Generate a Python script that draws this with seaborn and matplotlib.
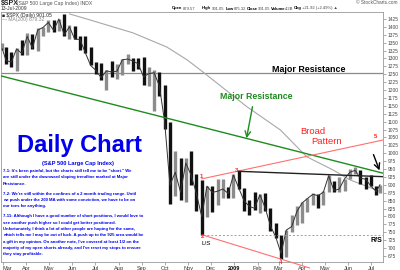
import matplotlib
matplotlib.use("Agg")
import matplotlib.pyplot as plt
import pandas as pd
import seaborn as sns

# ---------------- data ----------------
bar_dates = ["2008-02-29",
    "2008-03-05", "2008-03-12", "2008-03-19", "2008-03-26",
    "2008-04-02", "2008-04-09", "2008-04-16", "2008-04-23", "2008-04-30",
    "2008-05-07", "2008-05-14", "2008-05-21", "2008-05-28",
    "2008-06-04", "2008-06-11", "2008-06-18", "2008-06-25",
    "2008-07-02", "2008-07-09", "2008-07-16", "2008-07-23", "2008-07-30",
    "2008-08-06", "2008-08-13", "2008-08-20", "2008-08-27",
    "2008-09-03", "2008-09-10", "2008-09-17", "2008-09-24",
    "2008-10-01", "2008-10-08", "2008-10-15", "2008-10-22", "2008-10-29",
    "2008-11-05", "2008-11-12", "2008-11-19", "2008-11-26",
    "2008-12-03", "2008-12-10", "2008-12-17", "2008-12-24", "2008-12-31",
    "2009-01-07", "2009-01-14", "2009-01-21", "2009-01-28",
    "2009-02-04", "2009-02-11", "2009-02-18", "2009-02-25",
    "2009-03-04", "2009-03-11", "2009-03-18", "2009-03-25",
    "2009-04-01", "2009-04-08", "2009-04-15", "2009-04-22", "2009-04-29",
    "2009-05-06", "2009-05-13", "2009-05-20", "2009-05-27",
    "2009-06-03", "2009-06-10", "2009-06-17", "2009-06-24",
    "2009-07-01", "2009-07-08", "2009-07-13"]
bar_high = [1350,
    1335, 1321, 1334, 1359,
    1380, 1378, 1395, 1399, 1422,
    1421, 1425, 1440, 1406,
    1404, 1370, 1370, 1335,
    1290, 1285, 1262, 1292, 1284,
    1297, 1314, 1301, 1300,
    1304, 1274, 1265, 1256,
    1216, 1098, 1006, 985, 984,
    1007, 934, 917, 897,
    897, 918, 918, 893, 934,
    944, 891, 851, 877,
    870, 875, 828, 780,
    740, 758, 804, 832,
    845, 857, 875, 870, 882,
    930, 912, 924, 920,
    951, 956, 946, 926,
    931, 898, 901]
bar_low = [1326,
    1283, 1274, 1260, 1312,
    1312, 1331, 1324, 1370, 1384,
    1384, 1387, 1372, 1362,
    1360, 1326, 1317, 1278,
    1252, 1233, 1200, 1241, 1234,
    1247, 1282, 1261, 1266,
    1217, 1212, 1133, 1180,
    1077, 839, 866, 852, 845,
    899, 818, 741, 798,
    815, 837, 857, 857, 857,
    888, 818, 804, 821,
    812, 818, 754, 731,
    666, 672, 751, 772,
    779, 814, 835, 826, 836,
    877, 878, 879, 880,
    918, 934, 903, 888,
    896, 869, 875]
bar_close = [1331,
    1294, 1288, 1330, 1316,
    1370, 1333, 1390, 1398, 1414,
    1389, 1425, 1375, 1400,
    1361, 1360, 1318, 1278,
    1262, 1239, 1261, 1257, 1260,
    1296, 1298, 1292, 1283,
    1242, 1252, 1255, 1213,
    1099, 899, 940, 877, 969,
    931, 873, 800, 896,
    876, 880, 887, 873, 931,
    890, 850, 832, 826,
    869, 827, 770, 735,
    683, 757, 768, 816,
    843, 857, 870, 866, 877,
    929, 882, 887, 919,
    940, 946, 921, 918,
    896, 879, 901.05]

ma_dates = ["2008-05-28", "2008-06-24", "2008-08-20", "2008-10-04", "2008-10-31",
            "2008-11-17", "2009-01-18", "2009-03-03", "2009-04-07", "2009-05-12",
            "2009-06-03", "2009-07-13"]
ma_values = [1441, 1422, 1381, 1336, 1295, 1264, 1147, 1074, 989, 947, 916, 879.32]

month_ticks = ["2008-03-01", "2008-04-01", "2008-05-01", "2008-06-01", "2008-07-01",
               "2008-08-01", "2008-09-01", "2008-10-01", "2008-11-01", "2008-12-01",
               "2009-01-01", "2009-02-01", "2009-03-01", "2009-04-01", "2009-05-01",
               "2009-06-01", "2009-07-01"]
month_labels = ["Mar", "Apr", "May", "Jun", "Jul", "Aug", "Sep", "Oct", "Nov", "Dec",
                "2009", "Feb", "Mar", "Apr", "May", "Jun", "Jul"]
y_ticks = list(range(675, 1426, 25))

resistance_level = 1254
green_dates = ["2008-02-27", "2009-07-17"]
green_values = [1245, 937]
upper_dates = ["2008-11-19", "2009-07-17"]
upper_values = [919, 1042]
lower_dates = ["2008-11-21", "2009-04-11"]
lower_values = [741, 637]
neck_dates = ["2009-01-06", "2009-07-17"]
neck_values = [943, 926]
support_dates = ["2008-11-21", "2009-07-17"]
support_values = [741, 741]

paragraphs = [
    "7-1: It's been painful, but the charts still tell me to be \"short.\" We",
    "are still under the downward sloping trendline marked at Major",
    "Resistance.",
    None,
    "7-2: We're still within the confines of a 2 month trading range. Until",
    "we push under the 200 MA with some conviction, we have to be on",
    "our toes for anything.",
    None,
    "7-11: Although I have a good number of short positions, I would love to",
    "see another push higher so I could get better positioned.",
    "Unfortunately, I think a lot of other people are hoping for the same,",
    "which tells me I may be out of luck. A push up to the 925 area would be",
    "a gift in my opinion. On another note, I've covered at least 1/2 on the",
    "majority of my open shorts already, and I've reset my stops to ensure",
    "they stay profitable.",
]

# ---------------- figure ----------------
sns.set_style("white")
plt.rcParams['font.family'] = ['Liberation Sans', 'DejaVu Sans']

W, H = 400, 270
def P(x, y):
    return (x / W, 1 - y / H)

fig = plt.figure(figsize=(4, 2.7), dpi=100)
ax = fig.add_axes([1 / W, 1 - 262 / H, 382 / W, 250 / H])

df = pd.DataFrame({"date": pd.to_datetime(bar_dates), "high": bar_high,
                   "low": bar_low, "close": bar_close})
df["prev"] = df["close"].shift(1).fillna(df["close"])
up = df["close"] >= df["prev"]

BLUE = "#0000ee"
GREEN = "#1e8c1e"
RED_L = "#ff7070"
RED_T = "#ff2020"

# reference lines
ax.axhline(resistance_level, color="#8a8a8a", lw=0.9, zorder=1)
ma_df = pd.DataFrame({"date": pd.to_datetime(ma_dates), "ma": ma_values})
sns.lineplot(data=ma_df, x="date", y="ma", ax=ax, color="#a8a8a8", lw=0.8, zorder=2)

# price bars
ax.vlines(df["date"][up], df["low"][up], df["high"][up], color="#8c8c8c", lw=2.4, zorder=3)
ax.vlines(df["date"][~up], df["low"][~up], df["high"][~up], color="#111111", lw=2.4, zorder=3)
sns.lineplot(data=df, x="date", y="close", ax=ax, color="#333333", lw=0.7, zorder=3)

def seg(dates, vals, **kw):
    d = pd.DataFrame({"date": pd.to_datetime(dates), "v": vals})
    sns.lineplot(data=d, x="date", y="v", ax=ax, **kw)

seg(green_dates, green_values, color=GREEN, lw=1.0, zorder=4)
seg(upper_dates, upper_values, color=RED_L, lw=0.8, zorder=4)
seg(neck_dates, neck_values, color="#222222", lw=1.0, zorder=4)
seg(support_dates, support_values, color="#a0a0a0", lw=0.7, linestyle=(0, (2, 2)), zorder=4)
d_low = pd.DataFrame({"date": pd.to_datetime(lower_dates), "v": lower_values})
ln = ax.plot(d_low["date"], d_low["v"], color=RED_L, lw=0.8, zorder=4)
for l in ln:
    l.set_clip_on(False)

ax.set_xlim(pd.Timestamp("2008-02-27 10:00"), pd.Timestamp("2009-07-16 22:00"))
ax.set_ylim(656, 1447)
ax.set_xlabel("")
ax.set_ylabel("")

ax.yaxis.tick_right()
ax.set_yticks(y_ticks)
ax.set_yticklabels([str(v) for v in y_ticks])
ax.tick_params(axis="y", labelsize=3.5, labelcolor="#444444", length=2, width=0.5,
               color="#888888", pad=1.5, direction="out", right=True, left=False)
ax.set_xticks(pd.to_datetime(month_ticks))
ax.set_xticklabels(month_labels)
ax.tick_params(axis="x", labelsize=4, labelcolor="#333333", length=2, width=0.5,
               color="#888888", pad=1, direction="out", bottom=True)
xt = ax.get_xticklabels()
xt[0].set_horizontalalignment("left")
for t in xt:
    if t.get_text() == "2009":
        t.set_fontweight("bold")
        t.set_color("black")
for s in ax.spines.values():
    s.set_color("#999999")
    s.set_linewidth(0.6)

# ---------------- header ----------------
fig.text(*P(1, 3.5), "$SPX", fontsize=5, weight="bold", va="center", ha="left")
fig.text(*P(17, 3.5), "(S&P 500 Large Cap Index) INDX", fontsize=3.6, color="#555555",
         va="center", ha="left")
fig.text(*P(1, 8.5), "13-Jul-2009", fontsize=3.6, color="#333333", va="center", ha="left")
hdr = [(172, "Open", True), (183, "879.57", False), (202, "High", True), (212, "901.05", False),
       (226, "Low", True), (234, "875.32", False), (247, "Close", True), (258, "901.05", False),
       (271, "Volume", True), (285, "4.2B", False), (294, "Chg", True),
       (302, "+21.92 (+2.49%) \u25b2", False)]
for x, s, b in hdr:
    fig.text(*P(x, 8.5), s, fontsize=3.0, weight="bold" if b else "normal",
             color="black" if b else "#444444", va="center", ha="left")
fig.text(*P(398, 2.5), "\u00a9 StockCharts.com", fontsize=3.4, color="#555555",
         va="center", ha="right")
fig.text(*P(2, 15), "\u25a0 $SPX (Daily) 901.05", fontsize=3.6, color="#222222",
         va="center", ha="left")
fig.text(*P(2, 20), "\u2014 MA(200) 879.32", fontsize=3.6, color="#888888",
         va="center", ha="left")

# ---------------- annotations ----------------
fig.text(*P(79.5, 152), "Daily Chart", fontsize=17, weight="bold", color=BLUE,
         ha="center", va="baseline")
fig.text(*P(77.5, 163), "(S&P 500 Large Cap Index)", fontsize=4.1, weight="bold",
         color=BLUE, ha="center", va="center")
y = 171.0
for line in paragraphs:
    if line is None:
        y += 3.6
        continue
    fig.text(*P(3, y), line, fontsize=3.1, weight="bold", color=BLUE, ha="left", va="center")
    y += 6.35

fig.text(*P(308.5, 69.5), "Major Resistance", fontsize=6.4, weight="bold", color="black",
         ha="center", va="center")
fig.text(*P(256, 96.5), "Major Resistance", fontsize=6.3, weight="bold", color=GREEN,
         ha="center", va="center")
ax.annotate("", xy=P(246, 141), xytext=P(253, 104), xycoords="figure fraction",
            textcoords="figure fraction",
            arrowprops=dict(arrowstyle="->", color=GREEN, lw=1.0))
ax.annotate("", xy=P(380.5, 173), xytext=P(372.5, 152), xycoords="figure fraction",
            textcoords="figure fraction",
            arrowprops=dict(arrowstyle="->", color="black", lw=1.0))
fig.text(*P(312.5, 131.5), "Broad", fontsize=6.8, color=RED_T, ha="center", va="center")
fig.text(*P(327, 141.5), "Pattern", fontsize=6.8, color=RED_T, ha="center", va="center")

for lab, (px, py) in zip(["1", "2", "3", "4", "5"],
                         [(201, 176), (203, 237), (237, 170), (281, 263), (375, 136)]):
    fig.text(*P(px, py), lab, fontsize=4.3, weight="bold", color=RED_T, ha="center", va="center")
fig.text(*P(206, 243.5), "L/S", fontsize=4.5, color="black", ha="center", va="center")
fig.text(*P(376, 240), "R/S", fontsize=5, weight="bold", color="black", ha="center", va="center")

fig.savefig("out.png", dpi=100)
